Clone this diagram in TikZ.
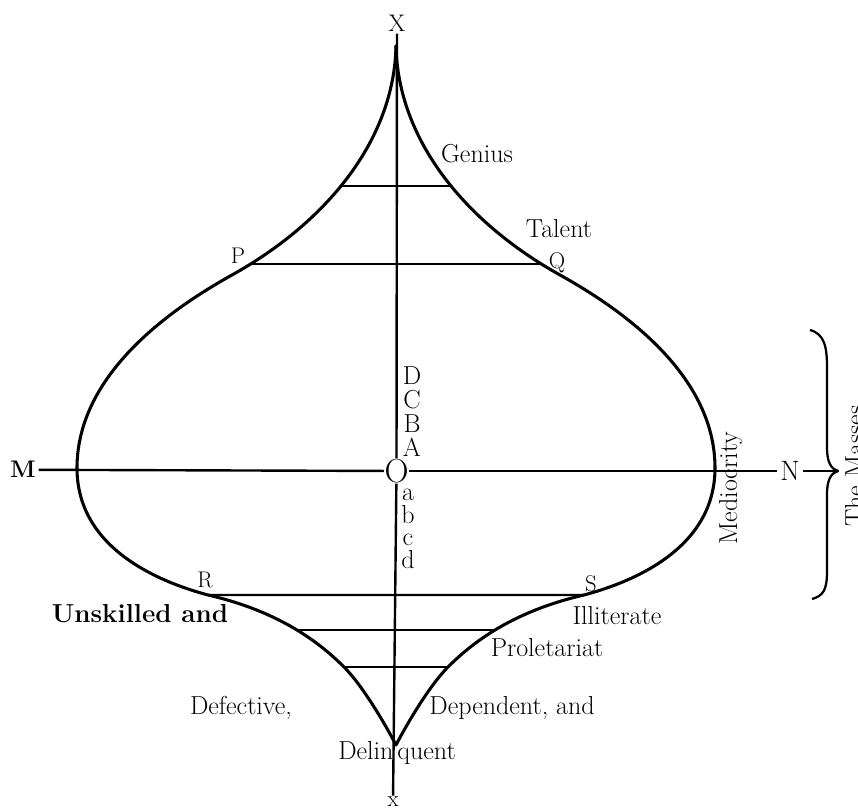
\documentclass[tikz,border=0pt]{standalone}
\usepackage{fontspec}
\usetikzlibrary{intersections}
\begin{document}
\tikzset{
  outline/.style={line width=2.3pt, line join=round, line cap=round},
  bar/.style={line width=1.8pt},
  lbl/.style={font=\fontsize{19.5}{22}\selectfont, inner sep=0.5pt, anchor=base},
  lett/.style={font=\fontsize{17}{19}\selectfont, inner sep=1pt, anchor=base},
  bracestyle/.style={line width=1.7pt, line join=round},
}
\begin{tikzpicture}[x=0.75pt,y=-0.75pt]
\useasboundingbox (0,0) rectangle (858,812);

% outline of the figure (right and left halves)
\draw[outline, name path=rightc] (396,46) .. controls (398,140) and (465,222) .. (560,275)
  .. controls (650,325) and (715,390) .. (715,468)
  .. controls (715,545) and (640,580) .. (584,595)
  .. controls (510,612) and (470,645) .. (448,667)
  .. controls (430,685) and (408,722) .. (396,745);
\draw[outline, name path=leftc] (396,46) .. controls (394,140) and (327,222) .. (232,275)
  .. controls (142,325) and (77,390) .. (77,468)
  .. controls (77,545) and (152,580) .. (208,595)
  .. controls (282,612) and (322,645) .. (344,667)
  .. controls (362,685) and (384,722) .. (396,745);

% horizontal bars, ending on the outline
\foreach \yy/\nm in {186/g, 264/p, 595/r, 630/h, 667/k} {
  \path[name path=hl] (0,\yy) -- (858,\yy);
  \path[name intersections={of=leftc and hl, by={\nm1}}];
  \path[name intersections={of=rightc and hl, by={\nm2}}];
  \draw[bar] (\nm1) -- (\nm2);
}

% axis labels and O
\node[lett, font=\fontsize{18}{20}\selectfont] (Xtop) at (397,32) {X};
\node[lett] (xbot) at (393,807) {x};
\node[font=\fontsize{25}{25}\selectfont, inner sep=0.3pt] (O) at (396.5,471) {O};
\node[font=\bfseries\fontsize{18}{20}\selectfont, inner sep=2pt, anchor=base] (M) at (23,478) {M};
\node[font=\fontsize{21}{22}\selectfont, inner sep=2pt] (N) at (790,471) {N};
\coordinate (tip) at (838,471);

\draw[bar] (Xtop) -- (O);
\draw[bar] (O) -- (xbot);
\draw[bar] (M) -- (O);
\draw[bar] (O) -- (N);
\draw[bar] (N) -- (tip);

% brace
\draw[bracestyle] (810,330) .. controls (825,334) and (827,348) .. (827,368)
  -- (827,448) .. controls (827,462) and (831,469) .. (tip)
  .. controls (831,473) and (827,480) .. (827,494)
  -- (827,572) .. controls (827,590) and (823,596) .. (812,599);

% letters along the axis
\node[lbl] (D) at (412,385) {D};
\node[lbl] (C) at (412,409) {C};
\node[lbl] (B) at (412,433) {B};
\node[lbl] (A) at (412,457) {A};
\node[lbl] (la) at (408,501) {a};
\node[lbl] (lb) at (408,524) {b};
\node[lbl] (lc) at (408,546) {c};
\node[lbl] (ld) at (408,569) {d};

% points
\node[lett] (P) at (238,264) {P};
\node[lett] (Q) at (557,269) {Q};
\node[lett] (R) at (205,588) {R};
\node[lett] (S) at (591,592) {S};

% text labels
\node[lbl] (genius) at (477,163) {Genius};
\node[lbl] (talent) at (559,238) {Talent};
\node[lbl, rotate=90] (medio) at (737,488) {Mediocrity};
\node[lbl, rotate=90] (masses) at (863,466) {The Masses};
\node[lbl, font=\bfseries\fontsize{19.5}{22}\selectfont] (unsk) at (140,623) {Unskilled and};
\node[lbl] (illit) at (617,625) {Illiterate};
\node[lbl] (prolet) at (547,657) {Proletariat};
\node[lbl] (defect) at (241,715) {Defective,};
\node[lbl] (depend) at (512,715) {Dependent, and};
\node[lbl] (delin) at (397,760) {Delin\hspace{3pt}quent};
\end{tikzpicture}
\end{document}
